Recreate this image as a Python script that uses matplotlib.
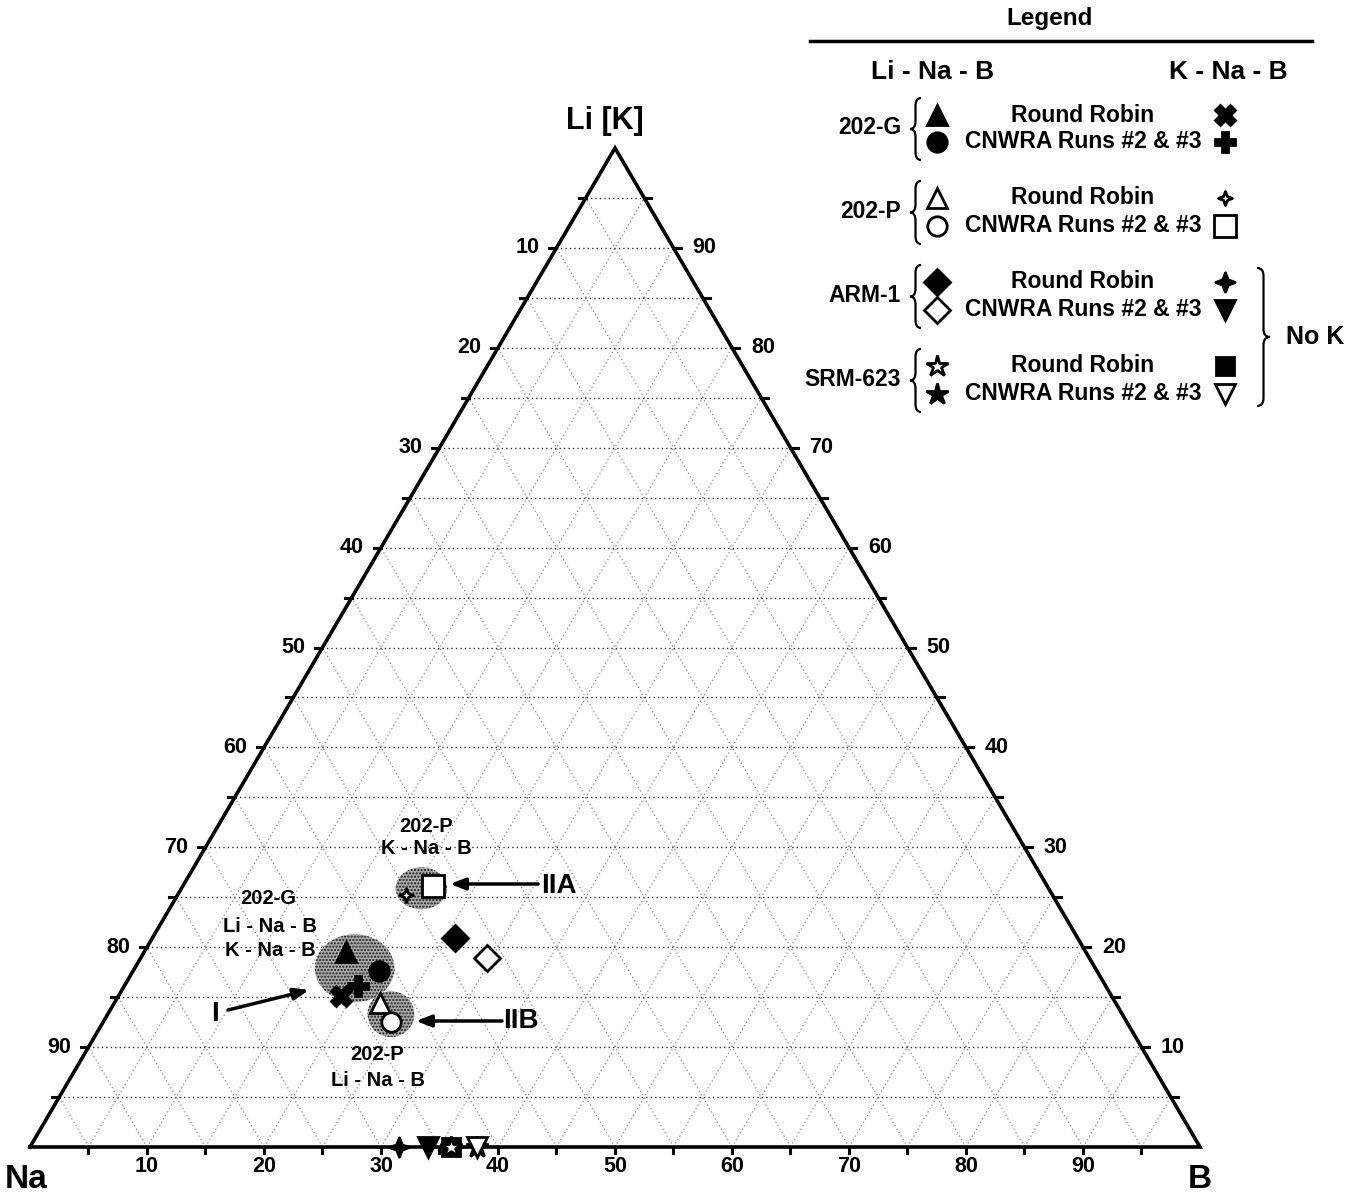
import numpy as np
import matplotlib
matplotlib.use("Agg")
import matplotlib.pyplot as plt
from matplotlib.path import Path
from matplotlib.patches import PathPatch, Ellipse

plt.rcParams['font.family'] = ['Liberation Sans', 'DejaVu Sans']
plt.rcParams['font.weight'] = 'bold'

# compositions in percent: B and Li (or K); Na is the rest
li_b = [17.3, 21.0, 22.7, 24.6, 25.9, 29.6, 36.0, 38.2]
li_li = [19.5, 17.6, 14.4, 12.5, 20.9, 18.9, 0.0, 0.0]
k_b = [19.0, 20.0, 19.5, 21.4, 31.5, 34.0, 36.0, 38.2]
k_k = [15.1, 16.1, 25.2, 26.1, 0.0, 0.0, 0.0, 0.0]

glasses = ['202-G', '202-P', 'ARM-1', 'SRM-623']
sources = ['Round Robin', 'CNWRA Runs #2 & #3']
tick_vals = [10, 20, 30, 40, 50, 60, 70, 80, 90]

# shaded clusters: (B, Li/K, width, height) in percent units
clusters = [(20.5, 25.9, 4.4, 4.2), (18.8, 17.9, 6.8, 6.8), (24.2, 13.3, 4.0, 4.6)]

star4 = Path([(0, 1), (0.28, 0.28), (1, 0), (0.28, -0.28), (0, -1),
              (-0.28, -0.28), (-1, 0), (-0.28, 0.28), (0, 1)],
             [Path.MOVETO] + [Path.LINETO] * 7 + [Path.CLOSEPOLY])

def mk(marker, ms, fill=True):
    return dict(marker=marker, ms=ms, mfc='black' if fill else 'white',
                mec='black', mew=2, ls='none')

li_styles = [mk('^', 15), mk('o', 14), mk('^', 15, False), mk('o', 14, False),
             mk('D', 13.5), mk('D', 13.5, False), mk('*', 16, False), mk('*', 16)]
k_styles = [mk('X', 14), mk('P', 14), mk(star4, 10, False), mk('s', 16, False),
            mk(star4, 14), mk('v', 15), mk('s', 13), mk('v', 14, False)]


def tern(b, li):
    b = np.asarray(b, float)
    li = np.asarray(li, float)
    return b + li / 2, li


fig = plt.figure(figsize=(13.63, 11.93), dpi=100)
ax = fig.add_axes([0, 0, 1, 1])
ax.set_xlim(-30 / 11.7, (1363 - 30) / 11.7)
ax.set_ylim(-(1193 - 1147) / 9.99, 1147 / 9.99)
ax.axis('off')

# grid every 5 %
dot = (0, (1, 2.2))
for k in range(5, 100, 5):
    x, y = tern([0, 100 - k], [k, k])
    ax.plot(x, y, color='#333333', lw=1.0, ls=dot, zorder=1)
    x, y = tern([k, k], [0, 100 - k])
    ax.plot(x, y, color='#8a8a8a', lw=0.9, ls=dot, zorder=1)
    x, y = tern([100 - k, 0], [0, 100 - k])
    ax.plot(x, y, color='#8a8a8a', lw=0.9, ls=dot, zorder=1)

# outline
x, y = tern([0, 100, 0, 0], [0, 0, 100, 0])
ax.plot(x, y, color='black', lw=2.6, solid_joinstyle='miter', zorder=3)

# edge ticks
tl = 0.6
for k in range(5, 100, 5):
    ax.plot([k, k], [0, -tl], color='black', lw=2.2, zorder=3)
    ax.plot([k / 2, k / 2 - tl], [k, k], color='black', lw=2.2, zorder=3)
    ax.plot([100 - k / 2, 100 - k / 2 + tl], [k, k], color='black', lw=2.2, zorder=3)

tfs = 15.5
for v in tick_vals:
    ax.text(v, -2.0, str(v), ha='center', va='center', fontsize=tfs)
    ax.text((100 - v) / 2 - 17 / 11.7, 100 - v, str(v), ha='right', va='center', fontsize=tfs)
    ax.text(100 - v / 2 + 19 / 11.7, v, str(v), ha='left', va='center', fontsize=tfs)

ax.text(49.1, 102.7, 'Li [K]', ha='center', va='center', fontsize=22)
ax.text(-0.3, -3.3, 'Na', ha='center', va='center', fontsize=24)
ax.text(100, -3.3, 'B', ha='center', va='center', fontsize=24)

for b, l, w, h in clusters:
    cx, cy = tern(b, l)
    ax.add_patch(Ellipse((cx, cy), w, h, facecolor='#a9a9a9', edgecolor='#1a1a1a',
                         hatch='.....', lw=0, zorder=2))

# data points
for i in range(8):
    x, y = tern(k_b[i], k_k[i])
    ax.plot(x, y, zorder=5, clip_on=False, **k_styles[i])
for i in range(6):
    x, y = tern(li_b[i], li_li[i])
    ax.plot(x, y, zorder=5, clip_on=False, **li_styles[i])
x, y = tern(li_b[6], li_li[6])
ax.plot(x, y, zorder=6, clip_on=False, **li_styles[6])
x, y = tern(li_b[7], li_li[7])
ax.plot(x, y, zorder=4, clip_on=False, **li_styles[7])

# overlay in pixel units for labels and legend
lg = fig.add_axes([0, 0, 1, 1])
lg.set_xlim(0, 1363)
lg.set_ylim(1193, 0)
lg.axis('off')
lg.patch.set_alpha(0)

fs = 14.5
lg.text(426, 826, '202-P', ha='center', va='center', fontsize=fs)
lg.text(426, 849, 'K - Na - B', ha='center', va='center', fontsize=fs)
lg.text(268, 899, '202-G', ha='center', va='center', fontsize=fs)
lg.text(270, 926, 'Li - Na - B', ha='center', va='center', fontsize=fs)
lg.text(270, 951, 'K - Na - B', ha='center', va='center', fontsize=fs)
lg.text(377, 1055, '202-P', ha='center', va='center', fontsize=fs)
lg.text(378, 1080, 'Li - Na - B', ha='center', va='center', fontsize=fs)

arrow = dict(arrowstyle='-|>,head_length=0.9,head_width=0.35', lw=2.5, color='black',
             shrinkA=0, shrinkB=0)
lg.annotate('', xy=(450, 884), xytext=(538, 884), arrowprops=arrow)
lg.text(559, 886, 'IIA', ha='center', va='center', fontsize=20)
lg.annotate('', xy=(416, 1021), xytext=(502, 1021), arrowprops=arrow)
lg.text(521, 1021, 'IIB', ha='center', va='center', fontsize=20)
lg.annotate('', xy=(309, 990), xytext=(228, 1010), arrowprops=arrow)
lg.text(215, 1014, 'I', ha='center', va='center', fontsize=20)


def brace(x, y0, y1, w, lw=1.6):
    ym = (y0 + y1) / 2
    r = min(8, (y1 - y0) / 4)
    h = x + w / 2
    verts = [(x + w, y0), (h, y0), (h, y0 + r), (h, ym - r), (h, ym), (x, ym),
             (h, ym), (h, ym + r), (h, y1 - r), (h, y1), (x + w, y1)]
    codes = [Path.MOVETO, Path.CURVE3, Path.CURVE3, Path.LINETO, Path.CURVE3, Path.CURVE3,
             Path.CURVE3, Path.CURVE3, Path.LINETO, Path.CURVE3, Path.CURVE3]
    lg.add_patch(PathPatch(Path(verts, codes), fill=False, lw=lw, color='black'))


lg.text(1050, 18, 'Legend', ha='center', va='center', fontsize=17.5)
lg.plot([810, 1312], [41, 41], color='black', lw=2.5)
lg.text(933, 72, 'Li - Na - B', ha='center', va='center', fontsize=19)
lg.text(1228, 72, 'K - Na - B', ha='center', va='center', fontsize=19)

rows = [(115, 142), (198, 226), (282, 310), (366, 394)]
for g, (ya, yb) in enumerate(rows):
    lg.text(901, (ya + yb) / 2 - 1, glasses[g], ha='right', va='center', fontsize=16.5)
    brace(910, ya - 17, yb + 18, 11)
    for s, yy in enumerate((ya, yb)):
        i = 2 * g + s
        lg.plot(937, yy, **li_styles[i])
        lg.plot(1225, yy, **k_styles[i])
        lg.text(1083, yy, sources[s], ha='center', va='center', fontsize=16.5)
brace(1270, 268, 406, -13)
lg.text(1315, 337, 'No K', ha='center', va='center', fontsize=18)

fig.savefig('out.png', dpi=100)
